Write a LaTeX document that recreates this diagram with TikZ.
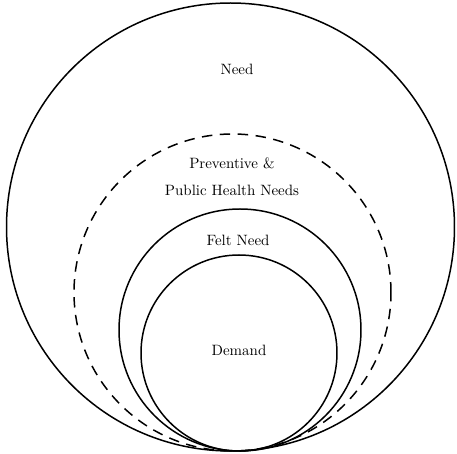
\documentclass[tikz,border=0pt]{standalone}
\usepackage{tikz}
\usetikzlibrary{calc}
\tikzset{
  % aylana chiziqlari
  ringline/.style = {line width=1pt, draw=black},
  ringdash/.style = {line width=1pt, draw=black, dash pattern=on 7pt off 5pt},
  % etiketlar
  lab/.style      = {font=\normalsize, inner sep=1pt},
  labtwo/.style   = {font=\normalsize, inner sep=1pt, align=center},
}
\begin{document}
\begin{tikzpicture}[x=0.0235cm, y=0.0235cm]
  \useasboundingbox (0,0) rectangle (457,454);
  % radiuslar (piksel birligida)
  \pgfmathsetmacro{\rA}{224}
  \pgfmathsetmacro{\rB}{158.5}
  \pgfmathsetmacro{\rC}{121}
  \pgfmathsetmacro{\rD}{98}
  % markazlar
  \coordinate (cneed)   at (230.5, 227);
  \coordinate (cprev)   at (232.5, 161.5);
  \coordinate (cfelt)   at (240, 124);
  \coordinate (cdemand) at (239, 101);
  % aylanalar
  \draw[ringline] (cneed)   circle[radius=\rA];
  \draw[ringdash] (cprev)   circle[radius=\rB];
  \draw[ringline] (cfelt)   circle[radius=\rC];
  \draw[ringline] (cdemand) circle[radius=\rD];
  % yozuvlar
  \node[lab]    (need)   at (237, 385) {Need};
  \node[labtwo] (prev)   at (232, 277) {Preventive \&\\[6pt] Public Health Needs};
  \node[lab]    (felt)   at (238, 214) {Felt Need};
  \node[lab]    (demand) at (239, 104) {Demand};
\end{tikzpicture}
\end{document}
